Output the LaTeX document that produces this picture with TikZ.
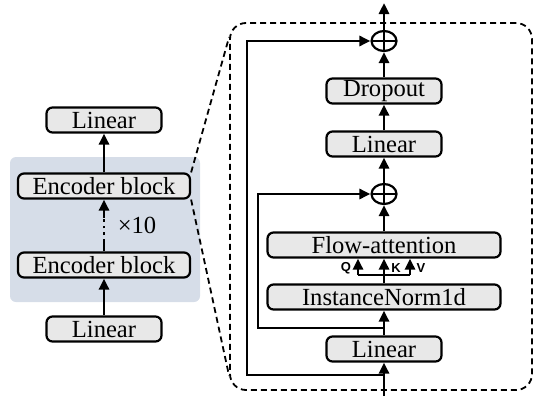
\documentclass[tikz,border=0pt]{standalone}
\usepackage{fontspec}
\setmainfont{Liberation Serif}
\newfontfamily\qkvfont{Liberation Sans}
\usepackage{tikz}
\usetikzlibrary{arrows.meta,positioning,shapes.geometric,calc}
\definecolor{blockbg}{RGB}{214,221,232}
\definecolor{boxfill}{RGB}{232,232,232}

\begin{document}
\begin{tikzpicture}[
    x=0.5pt, y=-0.5pt,
    box/.style={rectangle, draw, line width=1.1pt, rounded corners=3pt, fill=boxfill, minimum height=12.5pt, inner sep=0pt, font=\fontsize{12.3}{13}\selectfont},
    shortbox/.style={box, minimum width=57.5pt},
    encbox/.style={box, minimum width=86pt},
    longbox/.style={box, minimum width=116.5pt},
    sum/.style={ellipse, draw, line width=1.1pt, minimum width=12.5pt, minimum height=10pt, inner sep=0pt,
        path picture={\draw[line width=0.9pt] (path picture bounding box.north) -- (path picture bounding box.south)
            (path picture bounding box.west) -- (path picture bounding box.east);}},
    arrow/.style={-{Triangle[length=5.5pt,width=5pt]}, line width=1.4pt},
    line/.style={line width=1.4pt},
    frame/.style={draw, dashed, dash pattern=on 3pt off 2pt, line width=0.9pt},
    qkv/.style={font=\qkvfont\bfseries\fontsize{6.5}{7}\selectfont, inner sep=0pt}
]
\useasboundingbox (0,0) rectangle (533,396);

% Left: stack of encoder blocks
\fill[blockbg, rounded corners=3pt] (10,157) rectangle (200,302);
\node[shortbox] (linin) at (104,329) {Linear};
\node[encbox] (encA) at (104,265) {Encoder block};
\node[encbox] (encB) at (104,186) {Encoder block};
\node[shortbox] (linout) at (104,120) {Linear};
\node[font=\fontsize{12.3}{13}\selectfont] (times) at (137,225) {×10};
\coordinate (dotlo) at (104,242);
\coordinate (dothi) at (104,218);

\draw[arrow] (linin) -- (encA);
\draw[line] (encA.north) -- (dotlo);
\draw[line, dotted] (dotlo) -- (dothi);
\draw[arrow] (dothi) -- (encB.south);
\draw[arrow] (encB) -- (linout);

% Right: one encoder block in detail
\node[frame, rounded corners=8pt, minimum width=151pt, minimum height=183.5pt] (zoomframe) at (381,206.5) {};
\draw[frame] (encB.north east) -- ($(zoomframe.north west)+(0,15)$);
\draw[frame] (encB.south east) -- ($(zoomframe.south west)+(0,-15)$);

\node[shortbox] (lin1) at (384,349) {Linear};
\node[longbox] (norm) at (384,297) {InstanceNorm1d};
\node[longbox] (flow) at (384,245) {Flow-attention};
\node[sum] (sumA) at (384,194) {};
\node[shortbox] (lin2) at (384,144) {Linear};
\node[shortbox] (drop) at (384,91) {Dropout};
\node[sum] (sumB) at (384,41) {};
\coordinate (in) at (384,396);
\coordinate (out) at (384,3);
\coordinate (skipA) at (384,375);
\coordinate (skipB) at (384,328);
\coordinate (split) at (384,275);

\draw[arrow] (in) -- (lin1);
\draw[arrow] (lin1) -- (norm);
\draw[line] (norm.north) -- (split);
\draw[line] ($(split)+(-26,0)$) -- ($(split)+(26,0)$);
\draw[arrow] ($(split)+(-26,0)$) -- ($(flow.south)+(-26,0)$);
\draw[arrow] (split) -- (flow.south);
\draw[arrow] ($(split)+(26,0)$) -- ($(flow.south)+(26,0)$);
\node[qkv] (q) at (346,268) {Q};
\node[qkv] (k) at (396,268) {K};
\node[qkv] (v) at (421,268) {V};
\draw[arrow] (flow) -- (sumA);
\draw[arrow] (sumA) -- (lin2);
\draw[arrow] (lin2) -- (drop);
\draw[arrow] (drop) -- (sumB);
\draw[arrow] (sumB) -- (out);

% residual paths
\draw[arrow] (skipB) -- ++(-126,0) |- (sumA.west);
\draw[arrow] (skipA) -- ++(-137,0) |- (sumB.west);

\end{tikzpicture}
\end{document}
